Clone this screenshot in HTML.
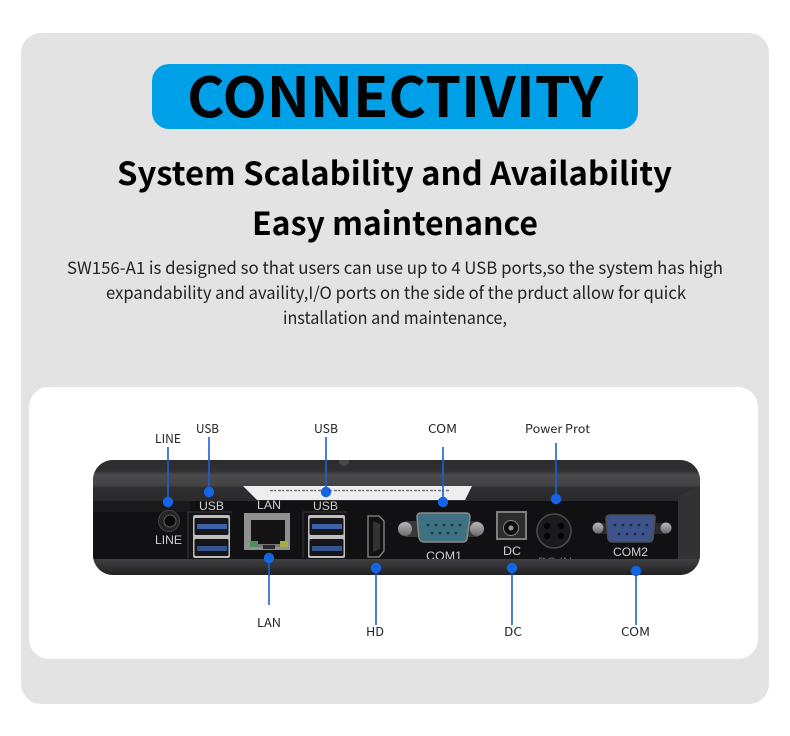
<!DOCTYPE html>
<html><head><meta charset="utf-8"><style>
html,body{margin:0;padding:0;background:#fff}
svg{display:block}
text{font-family:"Liberation Sans",sans-serif}
.n{font-family:"Noto Sans CJK SC","Liberation Sans",sans-serif}
</style></head><body>
<svg width="790" height="736" viewBox="0 0 790 736" xmlns="http://www.w3.org/2000/svg">
<defs>
<linearGradient id="top" x1="0" y1="0" x2="0" y2="1"><stop offset="0" stop-color="#2c2c2e"/><stop offset=".27" stop-color="#303032"/><stop offset=".36" stop-color="#4a4a4c"/><stop offset=".62" stop-color="#434345"/><stop offset=".68" stop-color="#2e2e30"/><stop offset="1" stop-color="#2a2a2c"/></linearGradient>
<linearGradient id="bot" x1="0" y1="0" x2="0" y2="1"><stop offset="0" stop-color="#404042"/><stop offset="1" stop-color="#222224"/></linearGradient>
<linearGradient id="metal" x1="0" y1="0" x2="0" y2="1"><stop offset="0" stop-color="#b8b8b8"/><stop offset="1" stop-color="#6c6c6c"/></linearGradient>
<clipPath id="dev"><rect x="93" y="460" width="607" height="115" rx="20"/></clipPath>
<g id="usb">
<rect x="0" y="0" width="44" height="46" fill="#141416"/>
<path d="M0 0H44M0 0V46" stroke="#3a3a3c" stroke-width="1" fill="none"/>
<rect x="5" y="3" width="37" height="43" rx="2" fill="#bdbdbd"/>
<rect x="6.5" y="6" width="34" height="17" rx="1.5" fill="#16161a"/>
<rect x="9" y="12" width="30" height="5" fill="#3c63a8"/>
<rect x="6.5" y="27" width="34" height="17" rx="1.5" fill="#16161a"/>
<rect x="9" y="34" width="30" height="5" fill="#34558f"/>
</g>
</defs>
<rect x="21" y="33" width="748" height="671" rx="20" fill="#e3e3e3"/>
<rect x="152" y="64" width="486" height="65" rx="17" fill="#00a0e9"/>
<text class="n" x="187" y="117" font-size="55" font-weight="700" fill="#000" textLength="416" lengthAdjust="spacingAndGlyphs">CONNECTIVITY</text>
<text class="n" x="117" y="185" font-size="32" font-weight="700" fill="#000" textLength="555" lengthAdjust="spacingAndGlyphs">System Scalability and Availability</text>
<text class="n" x="252" y="235" font-size="32" font-weight="700" fill="#000" textLength="286" lengthAdjust="spacingAndGlyphs">Easy maintenance</text>
<g class="n" font-size="17" fill="#222">
<text class="n" x="67" y="274" textLength="656" lengthAdjust="spacingAndGlyphs">SW156-A1 is designed so that users can use up to 4 USB ports,so the system has high</text>
<text class="n" x="106" y="299" textLength="580" lengthAdjust="spacingAndGlyphs">expandability and availity,I/O ports on the side of the prduct allow for quick</text>
<text class="n" x="283" y="324" textLength="224" lengthAdjust="spacingAndGlyphs">installation and maintenance,</text>
</g>
<rect x="29" y="387" width="729" height="272" rx="20" fill="#fff"/>

<g clip-path="url(#dev)">
<rect x="93" y="460" width="607" height="115" fill="url(#bot)"/>
<rect x="93" y="460" width="607" height="41" fill="url(#top)"/>
<rect x="93" y="501" width="585" height="58" fill="#111113"/>
<path d="M93 501H190V512H93Z" fill="#1a1a1c"/>
<path d="M678 496L700 486V560H678Z" fill="#323234"/>
<path d="M243 486H472L465 500H257Z" fill="#eeeeee"/>
<path d="M270 490.5H449" stroke="#777" stroke-width="1.6" stroke-dasharray="3 1 2 2"/>
<circle cx="344" cy="461" r="5" fill="#4a4a4a"/>

<circle cx="169" cy="521" r="10.5" fill="#242424" stroke="#454545" stroke-width="1"/>
<circle cx="170" cy="521" r="6" fill="#0a0a0a" stroke="#5e5e5e" stroke-width="1"/>
<use href="#usb" x="188" y="512"/>
<use href="#usb" x="303" y="512"/>

<rect x="244" y="513" width="46" height="37" fill="#909090"/>
<rect x="251" y="520" width="34" height="24" fill="#141414"/>
<rect x="250" y="541" width="8" height="6" fill="#4f8f58"/>
<rect x="280" y="541" width="8" height="6" fill="#a8ad45"/>
<path d="M258 544H280V547H258Z" fill="#777"/>
<path d="M263 545H275V549H263Z" fill="#2a2a2a"/>

<path d="M368 516H379L384 521V551L379 557H368Z" fill="#111" stroke="#8a8a8a" stroke-width="1.3"/>
<path d="M373 521L380 524V549L373 552Z" fill="#333336"/>

<rect x="405" y="521" width="73" height="16" fill="#3a3a3a"/>
<circle cx="405" cy="529" r="7" fill="url(#metal)"/>
<circle cx="477" cy="529" r="7" fill="url(#metal)"/>
<path d="M421 513H466Q470 513 470 517L467 539Q466 542 463 542H424Q420 542 419 538L417 517Q417 513 421 513Z" fill="#3f7280" stroke="#8a8a8a" stroke-width="1.5"/>
<g fill="#1c3c44"><circle cx="428" cy="525" r="1.4"/><circle cx="436" cy="525" r="1.4"/><circle cx="444" cy="525" r="1.4"/><circle cx="452" cy="525" r="1.4"/><circle cx="460" cy="525" r="1.4"/><circle cx="432" cy="533" r="1.4"/><circle cx="440" cy="533" r="1.4"/><circle cx="448" cy="533" r="1.4"/><circle cx="456" cy="533" r="1.4"/></g>

<rect x="496" y="511" width="31" height="29" fill="#7e7e7e"/>
<rect x="498" y="513" width="27" height="25" fill="#2c2c2c"/>
<circle cx="511" cy="528" r="7.5" fill="#0c0c0c" stroke="#8a8a8a" stroke-width="1"/>
<circle cx="511" cy="528" r="2.5" fill="#9a9a90"/>

<circle cx="554" cy="531" r="17" fill="#1b1b1d" stroke="#4c4c4c" stroke-width="1.5"/>
<g fill="#050505"><circle cx="547" cy="526" r="3.2"/><circle cx="561" cy="526" r="3.2"/><circle cx="547" cy="536" r="3.2"/><circle cx="561" cy="536" r="3.2"/></g>

<rect x="598" y="523" width="68" height="11" fill="#2a2a2a"/>
<circle cx="598" cy="528" r="5.5" fill="url(#metal)"/>
<circle cx="666" cy="528" r="5.5" fill="url(#metal)"/>
<path d="M610 515H652Q656 515 655 519L653 539Q652 542 649 542H612Q609 542 608 539L606 519Q606 515 610 515Z" fill="#3d5389" stroke="#4c4c4c" stroke-width="1.5"/>
<g fill="#1d2a4d"><circle cx="615" cy="525" r="1.4"/><circle cx="623" cy="525" r="1.4"/><circle cx="631" cy="525" r="1.4"/><circle cx="639" cy="525" r="1.4"/><circle cx="647" cy="525" r="1.4"/><circle cx="619" cy="534" r="1.4"/><circle cx="627" cy="534" r="1.4"/><circle cx="635" cy="534" r="1.4"/><circle cx="643" cy="534" r="1.4"/></g>

<g font-size="12" fill="#d0d0d0">
<text x="155" y="544" textLength="27" lengthAdjust="spacingAndGlyphs">LINE</text>
<text x="199" y="510" textLength="25" lengthAdjust="spacingAndGlyphs">USB</text>
<text x="257" y="509" textLength="24" lengthAdjust="spacingAndGlyphs">LAN</text>
<text x="313" y="510" textLength="25" lengthAdjust="spacingAndGlyphs">USB</text>
<text x="426" y="560" textLength="36" lengthAdjust="spacingAndGlyphs">COM1</text>
<text x="503" y="555" textLength="18" lengthAdjust="spacingAndGlyphs">DC</text>
<text x="538" y="566" textLength="34" lengthAdjust="spacingAndGlyphs" fill="#6a6a6a">DC-IN</text>
<text x="613" y="556" textLength="35" lengthAdjust="spacingAndGlyphs">COM2</text>
</g>
<rect x="93" y="559" width="607" height="16" fill="url(#bot)"/>
</g>

<g stroke="#1a5fd8" stroke-width="1.6" fill="none">
<path d="M168 447V502M209 437V492M326 437V492M443 447V502M556 443V499M269 558V605M376 568V625M512 568V625M636 571V625"/>
</g>
<g fill="#1464e6">
<circle cx="168" cy="502" r="5.2"/><circle cx="209" cy="492" r="5.2"/><circle cx="326" cy="492" r="5.2"/><circle cx="443" cy="502" r="5.2"/><circle cx="556" cy="499" r="5.2"/><circle cx="269" cy="558" r="5.2"/><circle cx="376" cy="568" r="5.2"/><circle cx="512" cy="568" r="5.2"/><circle cx="636" cy="571" r="5.2"/>
</g>
<g font-size="12" fill="#222">
<text class="n" x="155" y="443" textLength="26" lengthAdjust="spacingAndGlyphs">LINE</text>
<text class="n" x="196" y="433" textLength="23" lengthAdjust="spacingAndGlyphs">USB</text>
<text class="n" x="314" y="433" textLength="24" lengthAdjust="spacingAndGlyphs">USB</text>
<text class="n" x="428" y="433" textLength="29" lengthAdjust="spacingAndGlyphs">COM</text>
<text class="n" x="525" y="433" textLength="65" lengthAdjust="spacingAndGlyphs">Power Prot</text>
<text class="n" x="257" y="627" textLength="24" lengthAdjust="spacingAndGlyphs">LAN</text>
<text class="n" x="366" y="636" textLength="18" lengthAdjust="spacingAndGlyphs">HD</text>
<text class="n" x="504" y="636" textLength="18" lengthAdjust="spacingAndGlyphs">DC</text>
<text class="n" x="621" y="636" textLength="29" lengthAdjust="spacingAndGlyphs">COM</text>
</g>
</svg>
</body></html>
